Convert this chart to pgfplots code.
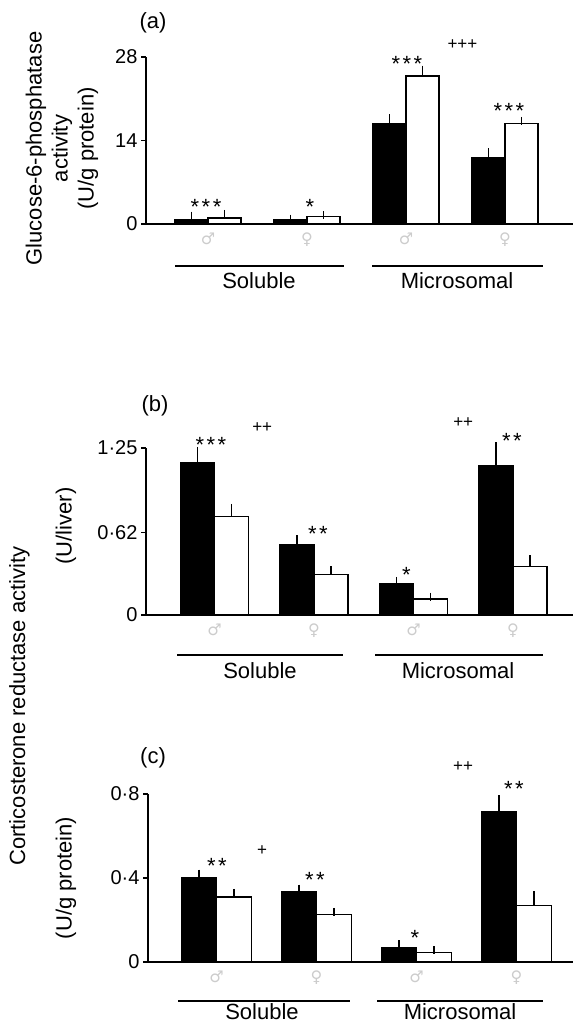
\documentclass[border=0pt]{standalone}
\usepackage{fontspec}
\setmainfont{Liberation Sans}
\newfontfamily\symfont{DejaVu Sans}
\usepackage{pgfplots}
\pgfplotsset{compat=1.18}

\newcommand\lab{\fontsize{22}{26}\selectfont}
\newcommand\tck{\fontsize{20}{24}\selectfont}
\newcommand\st{\fontsize{22}{24}\selectfont}
\newcommand\pl{\fontsize{17}{18}\selectfont}
\newcommand\three{*\kern2.5pt*\kern2.5pt*}
\newcommand\two{*\kern2.5pt*}

\tikzset{
  stnode/.style={font=\st, yshift=-4.7pt, inner sep=0pt},
  plnode/.style={font=\pl, inner sep=0pt},
}
\pgfplotsset{
  panel/.style={
    scale only axis, anchor=south west,
    width=427pt, height=167pt,
    axis x line=bottom, axis y line=left,
    axis line style={-, line width=1.4pt},
    ymin=0, clip=false,
    ybar=0pt,
    xtick={1,2,3,4}, xticklabels={♂,♀,♂,♀},
    xticklabel style={font=\symfont\fontsize{16}{16}\selectfont, text=gray!40},
    x tick style={draw=none},
    y tick style={line width=1.2pt, black},
    tick align=outside, major tick length=5pt,
    yticklabel style={font=\tck},
  },
  blk/.style={draw=black, fill=black, line width=1.2pt,
    error bars/.cd, y dir=plus, y explicit,
    error bar style={line width=1.2pt, black},
    error mark options={line width=1.2pt, mark size=4pt, black}},
  wht/.style={draw=black, fill=white, line width=1.2pt,
    error bars/.cd, y dir=plus, y explicit,
    error bar style={line width=1.2pt, black},
    error mark options={line width=1.2pt, mark size=4pt, black}},
}

\begin{document}
\begin{tikzpicture}
\useasboundingbox (0pt,0pt) rectangle (573pt,-1025pt);

% ---------------- panel (a)
\begin{axis}[panel, at={(146pt,-224pt)},
  xmin=0.374, xmax=4.687, ymax=28, bar width=0.333,
  ytick={0,14,28}, yticklabels={0,14,28}]
\addplot[blk] coordinates {(1,0.7) +- (0,0.7) (2,0.7) +- (0,0.2) (3,16.9) +- (0,0.8) (4,11.2) +- (0,0.8)};
\addplot[wht] coordinates {(1,1.0) +- (0,0.7) (2,1.2) +- (0,0.25) (3,24.8) +- (0,1.1) (4,16.9) +- (0,0.4)};
\node[stnode] at (axis cs:0.98,3.7) {\three};
\node[stnode] at (axis cs:2.03,3.7) {*};
\node[stnode] at (axis cs:3.01,27.6) {\three};
\node[plnode] at (axis cs:3.57,30.1) {+++};
\node[stnode] at (axis cs:4.04,19.7) {\three};
\end{axis}

% ---------------- panel (b)
\begin{axis}[panel, at={(146pt,-615pt)},
  xmin=0.312, xmax=4.603, ymax=1.25, bar width=0.342,
  ytick={0,0.62,1.25}, yticklabels={0,0·62,1·25}]
\addplot[blk] coordinates {(1,1.138) +- (0,0.09) (2,0.528) +- (0,0.04) (3,0.237) +- (0,0.019) (4,1.121) +- (0,0.141)};
\addplot[wht] coordinates {(1,0.740) +- (0,0.062) (2,0.306) +- (0,0.028) (3,0.120) +- (0,0.017) (4,0.366) +- (0,0.052)};
\node[stnode] at (axis cs:0.965,1.307) {\three};
\node[plnode] at (axis cs:1.48,1.402) {++};
\node[stnode] at (axis cs:2.04,0.64) {\two};
\node[stnode] at (axis cs:2.93,0.336) {*};
\node[plnode] at (axis cs:3.50,1.437) {++};
\node[stnode] at (axis cs:3.99,1.337) {\two};
\end{axis}

% ---------------- panel (c)
\begin{axis}[panel, at={(148pt,-962pt)}, width=425pt, height=168pt,
  xmin=0.315, xmax=4.565, ymax=0.8, bar width=0.35,
  ytick={0,0.4,0.8}, yticklabels={0,0·4,0·8}]
\addplot[blk] coordinates {(1,0.401) +- (0,0.020) (2,0.334) +- (0,0.016) (3,0.068) +- (0,0.016) (4,0.716) +- (0,0.060)};
\addplot[wht] coordinates {(1,0.310) +- (0,0.019) (2,0.226) +- (0,0.013) (3,0.045) +- (0,0.011) (4,0.270) +- (0,0.048)};
\node[stnode] at (axis cs:1.005,0.482) {\two};
\node[plnode] at (axis cs:1.455,0.530) {+};
\node[stnode] at (axis cs:1.985,0.414) {\two};
\node[stnode] at (axis cs:2.985,0.135) {*};
\node[plnode] at (axis cs:3.465,0.930) {++};
\node[stnode] at (axis cs:3.975,0.848) {\two};
\end{axis}

% ---------------- labels
\node[font=\lab] at (153pt,-23pt) {(a)};
\node[font=\lab] at (155pt,-406pt) {(b)};
\node[font=\lab] at (153pt,-758pt) {(c)};

\node[font=\lab, rotate=90, align=center] at (62pt,-148.5pt) {Glucose-6-phosphatase\\activity\\(U/g protein)};
\node[font=\lab, rotate=90] at (66pt,-526pt) {(U/liver)};
\node[font=\lab, rotate=90] at (66pt,-878pt) {(U/g protein)};
\node[font=\lab, rotate=90] at (19.5pt,-706pt) {Corticosterone reductase activity};

% group brackets
\draw[line width=1.2pt] (175pt,-266pt) -- (344pt,-266pt);
\draw[line width=1.2pt] (372pt,-266pt) -- (543pt,-266pt);
\node[font=\lab, anchor=base] at (259pt,-288pt) {Soluble};
\node[font=\lab, anchor=base] at (457pt,-288pt) {Microsomal};

\draw[line width=1.2pt] (177pt,-655pt) -- (343pt,-655pt);
\draw[line width=1.2pt] (375pt,-655pt) -- (543pt,-655pt);
\node[font=\lab, anchor=base] at (260pt,-678pt) {Soluble};
\node[font=\lab, anchor=base] at (458pt,-678pt) {Microsomal};

\draw[line width=1.2pt] (178pt,-1001pt) -- (350pt,-1001pt);
\draw[line width=1.2pt] (377pt,-1001pt) -- (543pt,-1001pt);
\node[font=\lab, anchor=base] at (262pt,-1019pt) {Soluble};
\node[font=\lab, anchor=base] at (460pt,-1019pt) {Microsomal};
\end{tikzpicture}
\end{document}
